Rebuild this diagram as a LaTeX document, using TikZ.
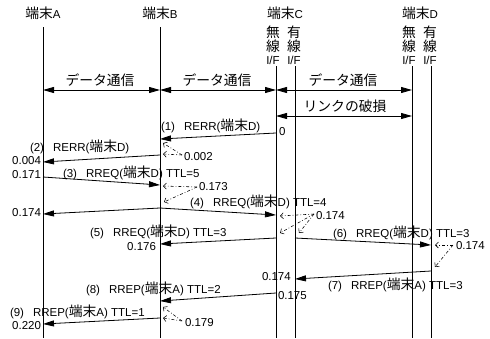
\documentclass[tikz,border=0pt]{standalone}
\usepackage{fontspec}
\setmainfont{Liberation Sans}
\newfontfamily\jpfont[Scale=1.2]{Noto Sans CJK JP}
\usetikzlibrary{arrows.meta}
\newcommand\J[1]{{\jpfont #1}}
\newcommand\gap{\hspace{9pt}}
\begin{document}
\begin{tikzpicture}[x=1pt,y=-1pt,
  every node/.style={inner sep=0pt,outer sep=0pt},
  font=\fontsize{11.5}{13}\selectfont,
  life/.style={line width=0.8pt},
  msg/.style={line width=0.8pt,-{Triangle[length=11pt,width=6pt]}},
  both/.style={line width=0.8pt,{Triangle[length=11pt,width=6pt]}-{Triangle[length=11pt,width=6pt]}},
  delay/.style={line width=0.55pt,dash pattern=on 3pt off 2pt on 0.8pt off 2pt,-{Straight Barb[length=3pt,width=6pt]}},
  lbl/.style={anchor=west},
  rlbl/.style={anchor=east}]
\useasboundingbox (0,0) rectangle (490,338);
% headers
\node (hA) at (43,13) {\J{端末}A};
\node (hB) at (160,13) {\J{端末}B};
\node (hC) at (285,13) {\J{端末}C};
\node (hD) at (420,13) {\J{端末}D};
\node (c1a) at (273,32) {\J{無}};
\node (c1b) at (273,46) {\J{線}};
\node (c1c) at (273,60) {I/F};
\node (c2a) at (294,32) {\J{有}};
\node (c2b) at (294,46) {\J{線}};
\node (c2c) at (294,60) {I/F};
\node (d1a) at (409,32) {\J{無}};
\node (d1b) at (409,46) {\J{線}};
\node (d1c) at (409,60) {I/F};
\node (d2a) at (430,32) {\J{有}};
\node (d2b) at (430,46) {\J{線}};
\node (d2c) at (430,60) {I/F};
% lifelines
\coordinate (At) at (43,27);  \coordinate (Ab) at (43,338);
\coordinate (Bt) at (160,27); \coordinate (Bb) at (160,338);
\coordinate (Cwt) at (276,66); \coordinate (Cwb) at (276,338);
\coordinate (Cdt) at (295,66); \coordinate (Cdb) at (295,338);
\coordinate (Dwt) at (412,66); \coordinate (Dwb) at (412,338);
\coordinate (Ddt) at (431,66); \coordinate (Ddb) at (431,338);
\draw[life] (At) -- (Ab);
\draw[life] (Bt) -- (Bb);
\draw[life] (Cwt) -- (Cwb);
\draw[life] (Cdt) -- (Cdb);
\draw[life] (Dwt) -- (Dwb);
\draw[life] (Ddt) -- (Ddb);
% data communication
\coordinate (dA) at (43,90); \coordinate (dB) at (160,90);
\coordinate (dC) at (276,90); \coordinate (dD) at (412,90);
\draw[both] (dA) -- (dB);
\draw[both] (dB) -- (dC);
\draw[both] (dC) -- (dD);
\node (t1) at (100,80) {\J{データ通信}};
\node (t2) at (217,80) {\J{データ通信}};
\node (t3) at (343,80) {\J{データ通信}};
\coordinate (lC) at (276,116); \coordinate (lD) at (412,116);
\draw[both] (lC) -- (lD);
\node (t4) at (345,106) {\J{リンクの破損}};
% (1)
\coordinate (m1s) at (276,133); \coordinate (m1e) at (160,139);
\draw[msg] (m1s) -- (m1e);
\node[lbl] (l1) at (161,126) {(1)\gap RERR(\J{端末}D)};
\node[lbl] (v1) at (279,132) {0};
% delay 0.002
\node[lbl] (v2) at (184,157) {0.002};
\coordinate (o2) at (182,155);
\coordinate (p2a) at (163,143); \coordinate (p2b) at (163,154);
\draw[delay] (o2) -- (p2a);
\draw[delay] (o2) -- (p2b);
% (2)
\coordinate (m2s) at (160,155); \coordinate (m2e) at (43,162);
\draw[msg] (m2s) -- (m2e);
\node[lbl] (l2) at (30,147) {(2)\gap RERR(\J{端末}D)};
\node[rlbl] (v3) at (41,161) {0.004};
% (3)
\coordinate (m3s) at (43,177); \coordinate (m3e) at (160,185);
\draw[msg] (m3s) -- (m3e);
\node[rlbl] (v4) at (41,175) {0.171};
\node[lbl] (l3) at (63,173) {(3)\gap RREQ(\J{端末}D) TTL=5};
% delay 0.173
\node[lbl] (v5) at (199,187) {0.173};
\coordinate (o5) at (197,187);
\coordinate (p5a) at (163,186); \coordinate (p5b) at (164,202);
\draw[delay] (o5) -- (p5a);
\draw[delay] (o5) -- (p5b);
% (4)
\coordinate (m4s) at (160,208); \coordinate (m4a) at (43,214); \coordinate (m4c) at (276,215);
\draw[msg] (m4s) -- (m4a);
\draw[msg] (m4s) -- (m4c);
\node[rlbl] (v6) at (41,213) {0.174};
\node[lbl] (l4) at (190,202) {(4)\gap RREQ(\J{端末}D) TTL=4};
% delay 0.174 at C
\node[lbl] (v7) at (316,216) {0.174};
\coordinate (o7) at (314,214);
\coordinate (p7a) at (280,216); \coordinate (p7b) at (280,233); \coordinate (p7c) at (299,233);
\draw[delay] (o7) -- (p7a);
\draw[delay] (o7) -- (p7b);
\draw[delay] (o7) -- (p7c);
% (5)
\coordinate (m5s) at (276,238); \coordinate (m5e) at (160,244);
\draw[msg] (m5s) -- (m5e);
\node[lbl] (l5) at (90,232) {(5)\gap RREQ(\J{端末}D) TTL=3};
\node[rlbl] (v8) at (156,247) {0.176};
% (6)
\coordinate (m6s) at (295,238); \coordinate (m6e) at (431,245);
\draw[msg] (m6s) -- (m6e);
\node[lbl] (l6) at (333,233) {(6)\gap RREQ(\J{端末}D) TTL=3};
% delay 0.174 at D
\node[lbl] (v9) at (456,246) {0.174};
\coordinate (o9) at (453,245);
\coordinate (p9a) at (435,245); \coordinate (p9b) at (435,267);
\draw[delay] (o9) -- (p9a);
\draw[delay] (o9) -- (p9b);
% (7)
\coordinate (m7s) at (431,271); \coordinate (m7e) at (295,279);
\draw[msg] (m7s) -- (m7e);
\node[lbl] (l7) at (328,285) {(7)\gap RREP(\J{端末}A) TTL=3};
\node[lbl] (v10) at (262,277) {0.174};
% (8)
\coordinate (m8s) at (276,293); \coordinate (m8e) at (160,301);
\draw[msg] (m8s) -- (m8e);
\node[lbl] (v11) at (278,296) {0.175};
\node[lbl] (l8) at (86,289) {(8)\gap RREP(\J{端末}A) TTL=2};
% delay 0.179
\node[lbl] (v12) at (185,323) {0.179};
\coordinate (o12) at (182,321);
\coordinate (p12a) at (163,307); \coordinate (p12b) at (163,318);
\draw[delay] (o12) -- (p12a);
\draw[delay] (o12) -- (p12b);
% (9)
\coordinate (m9s) at (160,318); \coordinate (m9e) at (43,324);
\draw[msg] (m9s) -- (m9e);
\node[lbl] (l9) at (10,312) {(9)\gap RREP(\J{端末}A) TTL=1};
\node[rlbl] (v13) at (41,326) {0.220};
\end{tikzpicture}
\end{document}
